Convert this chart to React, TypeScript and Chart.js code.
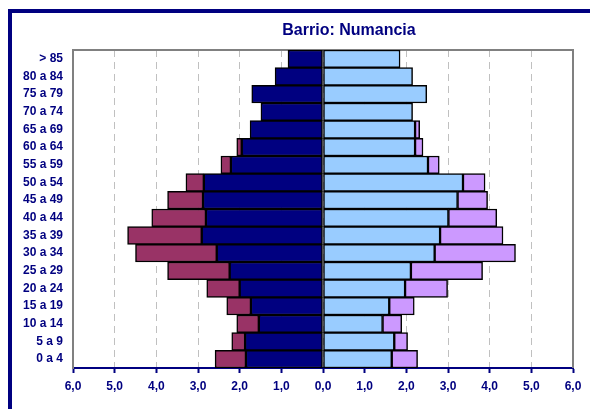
import React, { useEffect, useRef } from "react";
import { Chart, registerables } from "chart.js";

Chart.register(...registerables);

const ageGroups = ["> 85", "80 a 84", "75 a 79", "70 a 74", "65 a 69", "60 a 64", "55 a 59", "50 a 54", "45 a 49", "40 a 44", "35 a 39", "30 a 34", "25 a 29", "20 a 24", "15 a 19", "10 a 14", "5 a 9", "0 a 4"];
const menSpanish = [0.84, 1.15, 1.71, 1.49, 1.75, 1.95, 2.21, 2.86, 2.88, 2.81, 2.91, 2.55, 2.24, 2.0, 1.73, 1.54, 1.87, 1.85];
const menForeign = [0, 0, 0, 0, 0, 0.12, 0.24, 0.43, 0.85, 1.30, 1.78, 1.95, 1.49, 0.79, 0.58, 0.53, 0.32, 0.74];
const womenSpanish = [1.85, 2.15, 2.49, 2.15, 2.21, 2.21, 2.52, 3.36, 3.23, 3.01, 2.81, 2.68, 2.11, 1.97, 1.59, 1.43, 1.71, 1.65];
const womenForeign = [0, 0, 0, 0, 0.11, 0.19, 0.27, 0.53, 0.72, 1.16, 1.51, 1.94, 1.72, 1.02, 0.60, 0.46, 0.32, 0.62];
const xTicks = [-6, -5, -4, -3, -2, -1, 0, 1, 2, 3, 4, 5, 6];
const titleText = "Barrio: Numancia";

const NAVY = "#000080";
const FONT = "'Liberation Sans', Arial, sans-serif";

export default function App() {
  const ref = useRef<HTMLCanvasElement | null>(null);

  useEffect(() => {
    if (!ref.current) return;
    const nz = (v: number, sign: number) => (v === 0 ? null : sign * v);

    const framePlugin = {
      id: "frame",
      beforeDatasetsDraw(chart: any) {
        const { ctx, chartArea: a } = chart;
        ctx.save();
        ctx.strokeStyle = "#808080";
        ctx.lineWidth = 2;
        ctx.beginPath();
        ctx.moveTo(a.left, a.bottom);
        ctx.lineTo(a.left, a.top);
        ctx.lineTo(a.right, a.top);
        ctx.lineTo(a.right, a.bottom);
        ctx.stroke();
        ctx.restore();
      },
      afterDraw(chart: any) {
        const { ctx } = chart;
        ctx.save();
        ctx.fillStyle = NAVY;
        ctx.font = `bold 16px ${FONT}`;
        ctx.textAlign = "center";
        ctx.textBaseline = "middle";
        ctx.fillText(titleText, 349, 31);
        ctx.restore();
      },
    };

    const common = {
      borderColor: "#000000",
      borderWidth: 1.5,
      borderSkipped: false,
      barPercentage: 1,
      categoryPercentage: 1,
    };

    const chart = new Chart(ref.current, {
      type: "bar",
      data: {
        labels: ageGroups,
        datasets: [
          { label: "Hombres españoles", data: menSpanish.map((v) => nz(v, -1)), backgroundColor: "#000080", ...common },
          { label: "Hombres extranjeros", data: menForeign.map((v) => nz(v, -1)), backgroundColor: "#993366", ...common },
          { label: "Mujeres españolas", data: womenSpanish.map((v) => nz(v, 1)), backgroundColor: "#99CCFF", ...common },
          { label: "Mujeres extranjeras", data: womenForeign.map((v) => nz(v, 1)), backgroundColor: "#CC99FF", ...common },
        ] as any,
      },
      options: {
        indexAxis: "y",
        animation: false,
        responsive: false,
        maintainAspectRatio: false,
        layout: { padding: { left: 0, right: 17, top: 50, bottom: 8 } },
        plugins: { legend: { display: false }, tooltip: { enabled: false }, title: { display: false } },
        scales: {
          x: {
            stacked: true,
            min: -6,
            max: 6,
            afterBuildTicks: (s: any) => {
              s.ticks = xTicks.map((v) => ({ value: v }));
            },
            afterFit: (s: any) => {
              s.height = 33;
            },
            grid: {
              color: "#C0C0C0",
              lineWidth: 1,
              drawTicks: true,
              tickLength: 5,
              tickColor: NAVY,
              tickWidth: 2,
              tickBorderDash: [],
            } as any,
            border: { color: NAVY, width: 2, dash: [7, 5] },
            ticks: {
              color: NAVY,
              padding: 6,
              font: { family: FONT, size: 12, weight: "bold" },
              callback: (v: any) => Math.abs(Number(v)).toFixed(1).replace(".", ","),
            },
          },
          y: {
            stacked: true,
            afterFit: (s: any) => {
              s.width = 73;
            },
            grid: { display: false, drawTicks: false },
            border: { color: "#808080", width: 2 },
            ticks: {
              color: NAVY,
              padding: 10,
              font: { family: FONT, size: 12, weight: "bold" },
            },
          },
        },
      } as any,
      plugins: [framePlugin],
    });
    return () => chart.destroy();
  }, []);

  return (
    <div style={{ position: "fixed", left: 0, top: 0, width: 590, height: 409, overflow: "hidden", background: "#fff" }}>
      <div
        style={{
          position: "absolute",
          left: 8,
          top: 9,
          width: 700,
          height: 500,
          borderLeft: `4px solid ${NAVY}`,
          borderTop: `4px solid ${NAVY}`,
        }}
      />
      <canvas ref={ref} width={590} height={409} style={{ position: "absolute", left: 0, top: 0 }} />
    </div>
  );
}
